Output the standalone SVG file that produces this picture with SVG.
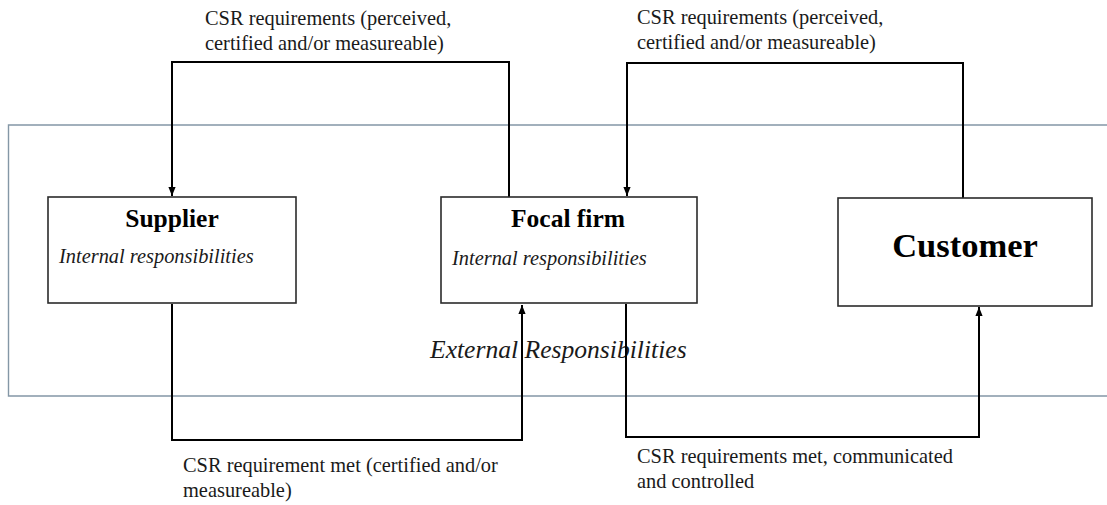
<svg xmlns="http://www.w3.org/2000/svg" width="1107" height="505" viewBox="0 0 1107 505">
  <style>
    .lbl { font-family: "Liberation Serif", "Times New Roman", serif; font-size: 20.4px; fill: #1a1a1a; }
    .title { font-family: "Liberation Serif", "Times New Roman", serif; font-weight: bold; fill: #000; text-anchor: middle; }
    .ital { font-family: "Liberation Serif", "Times New Roman", serif; font-style: italic; fill: #1a1a1a; }
    .box { fill: #fff; stroke: #2b2b2b; stroke-width: 1.6; }
    .conn { fill: none; stroke: #000; stroke-width: 2; }
  </style>
  <defs>
    <marker id="arrow" viewBox="0 0 10 10" refX="10" refY="5" markerWidth="9" markerHeight="9" markerUnits="userSpaceOnUse" orient="auto">
      <path d="M0,1 L10,5 L0,9 Z" fill="#000"/>
    </marker>
  </defs>

  <rect width="1107" height="505" fill="#fff"/>

  <!-- external responsibilities boundary -->
  <g id="external">
    <path d="M1107,125 H8.5 V396 H1107" fill="none" stroke="#8497a6" stroke-width="1.4"/>
    <text class="ital" x="430" y="358" font-size="25.6">External Responsibilities</text>
  </g>

  <!-- connectors -->
  <g id="connectors">
    <path class="conn" d="M509,197 V62 H172 V196" marker-end="url(#arrow)"/>
    <path class="conn" d="M963,198 V63 H627 V196" marker-end="url(#arrow)"/>
    <path class="conn" d="M172,304 V440 H522 V305" marker-end="url(#arrow)"/>
    <path class="conn" d="M626,304 V437 H979 V307" marker-end="url(#arrow)"/>
  </g>

  <!-- connector labels -->
  <g id="labels">
    <text class="lbl" x="205" y="25">CSR requirements (perceived,</text>
    <text class="lbl" x="205" y="50">certified and/or measureable)</text>
    <text class="lbl" x="637" y="24">CSR requirements (perceived,</text>
    <text class="lbl" x="637" y="49">certified and/or measureable)</text>
    <text class="lbl" x="183" y="472">CSR requirement met (certified and/or</text>
    <text class="lbl" x="183" y="497">measureable)</text>
    <text class="lbl" x="637" y="463">CSR requirements met, communicated</text>
    <text class="lbl" x="637" y="488">and controlled</text>
  </g>

  <g id="supplier">
    <rect class="box" x="48" y="197" width="248" height="106"/>
    <text class="title" x="172" y="227" font-size="25.5">Supplier</text>
    <text class="ital" x="59" y="263" font-size="20.4">Internal responsibilities</text>
  </g>

  <g id="focal-firm">
    <rect class="box" x="441" y="197" width="256" height="106"/>
    <text class="title" x="568" y="227" font-size="25.5">Focal firm</text>
    <text class="ital" x="452" y="265" font-size="20.4">Internal responsibilities</text>
  </g>

  <g id="customer">
    <rect class="box" x="838" y="198" width="254" height="108"/>
    <text class="title" x="965" y="257" font-size="34.5">Customer</text>
  </g>
</svg>
